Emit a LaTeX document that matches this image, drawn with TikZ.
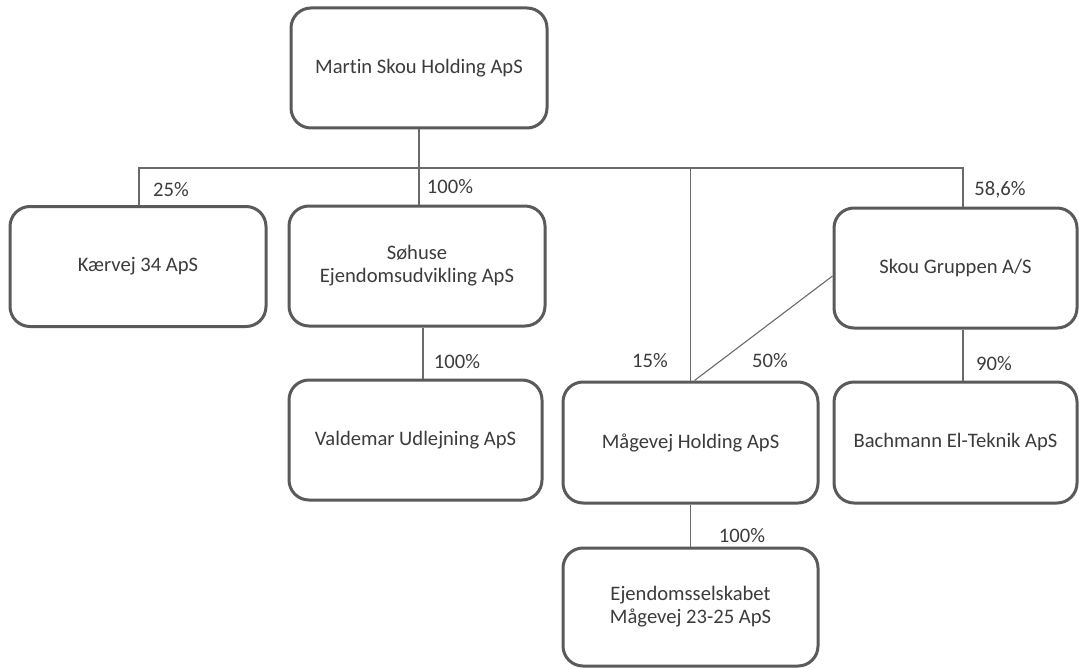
\documentclass[tikz,border=0pt]{standalone}
\usepackage{fontspec}
\setmainfont{Carlito}[Ligatures=NoCommon]
\definecolor{boxgray}{HTML}{5A5A5A}
\definecolor{linegray}{HTML}{6A6A6A}
\definecolor{txtgray}{HTML}{3C3C3C}
\begin{document}
\begin{tikzpicture}[x=0.5pt,y=-0.5pt,
  every node/.style={text=txtgray, font=\fontsize{10.3}{11.6}\selectfont},
  box/.style={draw=boxgray, line width=1.5pt, rounded corners=10pt, fill=white,
    align=center, inner sep=0pt, minimum height=60pt},
  conn/.style={draw=linegray, line width=0.55pt},
  pct/.style={inner sep=0pt}]
\useasboundingbox[fill=white] (0,0) rectangle (1079,668);

% boxes
\node[box, minimum width=128pt] (martin) at (419,68) {Martin Skou Holding ApS};
\node[box, minimum width=128pt] (kaervej) at (138,266.5) {Kærvej 34 ApS};
\node[box, minimum width=128pt] (sohuse) at (417,266) {Søhuse\\Ejendomsudvikling ApS};
\node[box, minimum width=121.5pt] (skou) at (955.5,268) {Skou Gruppen A/S};
\node[box, minimum width=126.5pt] (valdemar) at (415.5,440) {Valdemar Udlejning ApS};
\node[box, minimum width=127.5pt, minimum height=60.5pt] (maagevej) at (690.5,442.5) {Mågevej Holding ApS};
\node[box, minimum width=121.5pt, minimum height=60.5pt] (bachmann) at (955.5,442.5) {Bachmann El-Teknik ApS};
\node[box, minimum width=127.5pt, minimum height=59pt] (ejendoms) at (690.5,607) {Ejendomsselskabet\\Mågevej 23-25 ApS};

% bus coordinates
\coordinate (busL) at (139,168);
\coordinate (busR) at (963,168);

% connectors
\draw[conn] (martin.south) -- (martin.south |- sohuse.north);
\draw[conn] (kaervej.north -| busL) -- (busL) -- (busR) -- (busR |- skou.north);
\draw[conn] (maagevej.north) -- (maagevej.north |- busL);
\draw[conn] ([yshift=-4pt]skou.west) -- ([xshift=2pt]maagevej.north);
\draw[conn] ([xshift=3pt]sohuse.south) -- ([xshift=3pt]sohuse.south |- valdemar.north);
\draw[conn] (busR |- skou.south) -- (busR |- bachmann.north);
\draw[conn] (maagevej.south) -- (ejendoms.north);

% percentages
\node[pct] (p25) at (171,190) {25\%};
\node[pct] (p100a) at (450,187) {100\%};
\node[pct] (p586) at (1000,190) {58,6\%};
\node[pct] (p100b) at (457,362) {100\%};
\node[pct] (p15) at (650,361) {15\%};
\node[pct] (p50) at (770,361) {50\%};
\node[pct] (p90) at (994,364) {90\%};
\node[pct] (p100c) at (742,536) {100\%};
\end{tikzpicture}
\end{document}
